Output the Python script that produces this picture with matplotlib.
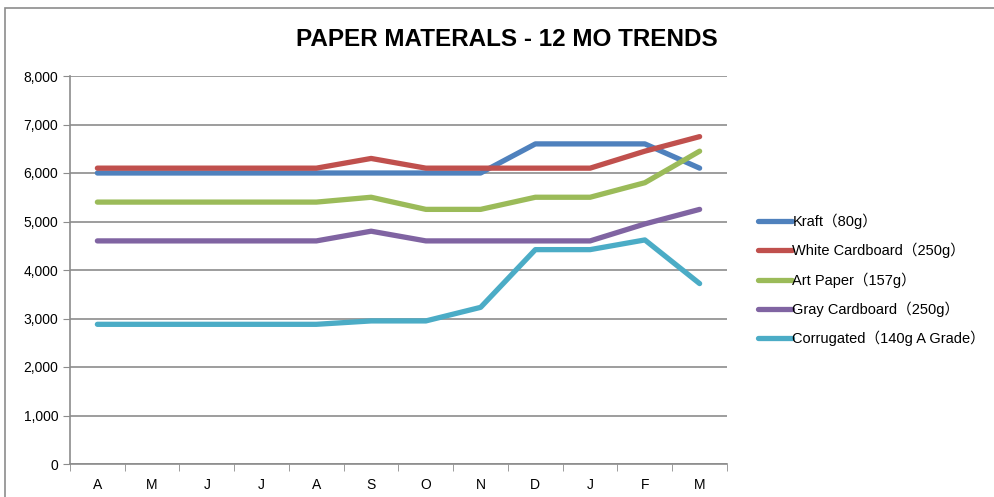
import numpy as np
from matplotlib import pyplot as plt
from matplotlib.patches import Rectangle

# Data
months = ['A', 'M', 'J', 'J', 'A', 'S', 'O', 'N', 'D', 'J', 'F', 'M']
kraft = [6000, 6000, 6000, 6000, 6000, 6000, 6000, 6000, 6600, 6600, 6600, 6100]
white_cardboard = [6100, 6100, 6100, 6100, 6100, 6300, 6100, 6100, 6100, 6100, 6450, 6750]
art_paper = [5400, 5400, 5400, 5400, 5400, 5500, 5250, 5250, 5500, 5500, 5800, 6450]
gray_cardboard = [4600, 4600, 4600, 4600, 4600, 4800, 4600, 4600, 4600, 4600, 4950, 5250]
corrugated = [2880, 2880, 2880, 2880, 2880, 2950, 2950, 3230, 4420, 4420, 4620, 3720]

series = [
    ('Kraft（80g）', kraft, '#4F81BD'),
    ('White Cardboard（250g）', white_cardboard, '#C0504D'),
    ('Art Paper（157g）', art_paper, '#9BBB59'),
    ('Gray Cardboard（250g）', gray_cardboard, '#8064A2'),
    ('Corrugated（140g A Grade）', corrugated, '#4BACC6'),
]

plt.rcParams['font.family'] = ['Liberation Sans', 'Noto Sans CJK SC', 'DejaVu Sans']

fig = plt.figure(figsize=(9.95, 4.97), dpi=100)
ax = fig.add_axes([70 / 995, 1 - 464 / 497, 657 / 995, 388 / 497])

x = np.arange(len(months))
for label, vals, color in series:
    ax.plot(x, vals, color=color, linewidth=3.8, label=label,
            solid_capstyle='round', solid_joinstyle='round')

ax.set_xlim(-0.5, len(months) - 0.5)
ax.set_ylim(0, 8000)
ax.set_yticks(np.arange(0, 8001, 1000))
ax.set_yticklabels([f'{v:,}' for v in range(0, 8001, 1000)])
ax.yaxis.grid(True, color='#8c8c8c', linewidth=1.2)
ax.set_axisbelow(True)

# category labels centred, tick marks on the boundaries
ax.set_xticks(x)
ax.set_xticklabels(months)
ax.set_xticks(np.arange(-0.5, len(months)), minor=True)
ax.tick_params(axis='x', which='major', length=0, pad=10, labelsize=10)
ax.tick_params(axis='x', which='minor', length=5, color='#8c8c8c')
ax.tick_params(axis='y', length=5, color='#8c8c8c', labelsize=10)

for side in ['top', 'right']:
    ax.spines[side].set_visible(False)
for side in ['left', 'bottom']:
    ax.spines[side].set_color('#8c8c8c')
    ax.spines[side].set_linewidth(1.2)

fig.text(507 / 995, 1 - 40 / 497, 'PAPER MATERALS - 12 MO TRENDS',
         ha='center', va='center', fontsize=17.5, fontweight='bold')

fig.legend(loc='center left', bbox_to_anchor=(745 / 995, 1 - 280 / 497),
           frameon=False, fontsize=10.5, handlelength=2.3, handletextpad=0.05,
           labelspacing=0.95)

# chart frame
fig.patches.append(Rectangle((5 / 995, -0.05), 1.2, 1 - 8 / 497 + 0.05,
                             transform=fig.transFigure, fill=False,
                             edgecolor='#8c8c8c', linewidth=1.2))

plt.savefig('out.png', dpi=100)
